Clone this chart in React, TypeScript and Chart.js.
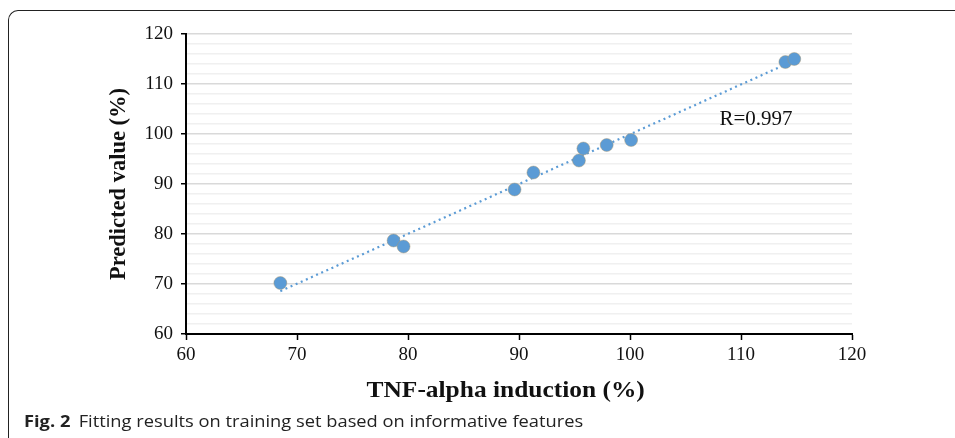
import React, { useEffect, useRef } from "react";
import { Chart, registerables } from "chart.js";

Chart.register(...registerables);

// ---- Data ----
const TNF_INDUCTION: number[] = [68.5, 78.7, 79.6, 89.6, 91.3, 95.4, 95.8, 97.9, 100.1, 114.0, 114.8];
const PREDICTED: number[] = [70.2, 78.7, 77.5, 88.9, 92.3, 94.7, 97.1, 97.8, 98.8, 114.4, 115.0];
const X_TICKS: number[] = [60, 70, 80, 90, 100, 110, 120];
const Y_TICKS: number[] = [60, 70, 80, 90, 100, 110, 120];
const Y_MINOR_STEP = 2;
const R_LABEL = "R=0.997";
const R_LABEL_POS: number[] = [111.35, 103.0];
const X_TITLE = "TNF-alpha induction (%)";
const Y_TITLE = "Predicted value (%)";
const CAPTION_BOLD = "Fig. 2";
const CAPTION_TEXT = "Fitting results on training set based on informative features";

const W = 955;
const H = 438;
const SERIF = '"Liberation Serif", "Times New Roman", serif';
const BLUE = "#5b9bd5";

// least-squares trendline (as Excel's linear trendline) from the data
function trendline(xs: number[], ys: number[]) {
  const n = xs.length;
  const mx = xs.reduce((a, b) => a + b, 0) / n;
  const my = ys.reduce((a, b) => a + b, 0) / n;
  let sxy = 0;
  let sxx = 0;
  for (let i = 0; i < n; i++) {
    sxy += (xs[i] - mx) * (ys[i] - my);
    sxx += (xs[i] - mx) * (xs[i] - mx);
  }
  const slope = sxy / sxx;
  const icpt = my - slope * mx;
  const x0 = Math.min(...xs);
  const x1 = Math.max(...xs);
  return [
    { x: x0, y: slope * x0 + icpt },
    { x: x1, y: slope * x1 + icpt },
  ];
}

const annotationPlugin = {
  id: "rLabel",
  afterDatasetsDraw(chart: any) {
    const { ctx, scales, chartArea } = chart;
    const px = scales.x.getPixelForValue(R_LABEL_POS[0]);
    const py = scales.y.getPixelForValue(R_LABEL_POS[1]);
    ctx.save();
    ctx.font = `21px ${SERIF}`;
    ctx.fillStyle = "#111";
    ctx.textAlign = "center";
    ctx.textBaseline = "middle";
    ctx.fillText(R_LABEL, px, py);
    ctx.restore();

    // x-axis title (Excel centres it slightly left of the plot centre and draws it wide)
    const cx = chartArea.left + (chartArea.right - chartArea.left) * 0.48;
    const cy = chartArea.bottom + 57;
    ctx.save();
    ctx.translate(cx, cy);
    ctx.scale(1.13, 1);
    ctx.font = `bold 22.5px ${SERIF}`;
    ctx.fillStyle = "#111";
    ctx.textAlign = "center";
    ctx.textBaseline = "middle";
    ctx.fillText(X_TITLE, 0, 0);
    ctx.restore();
  },
};

export default function App() {
  const canvasRef = useRef<HTMLCanvasElement | null>(null);

  useEffect(() => {
    document.body.style.margin = "0";
    const canvas = canvasRef.current;
    if (!canvas) return;
    const points = TNF_INDUCTION.map((x, i) => ({ x, y: PREDICTED[i] }));
    const isMajor = (v: number) => Y_TICKS.includes(v);

    const chart = new Chart(canvas, {
      type: "scatter",
      data: {
        datasets: [
          {
            type: "scatter",
            data: points,
            backgroundColor: BLUE,
            borderColor: "rgba(170,150,110,0.55)",
            borderWidth: 0.8,
            pointRadius: 6.5,
            order: 0,
          } as any,
          {
            type: "line",
            data: trendline(TNF_INDUCTION, PREDICTED),
            borderColor: BLUE,
            borderWidth: 2.2,
            borderDash: [2, 3.6],
            pointRadius: 0,
            fill: false,
            order: 1,
          } as any,
        ],
      },
      options: {
        animation: false,
        responsive: false,
        maintainAspectRatio: false,
        layout: { padding: { top: 34, right: W - 852, left: 0, bottom: 0 } },
        plugins: {
          legend: { display: false },
          tooltip: { enabled: false },
        },
        scales: {
          x: {
            type: "linear",
            min: X_TICKS[0],
            max: X_TICKS[X_TICKS.length - 1],
            afterFit: (s: any) => {
              s.height = H - 334;
            },
            afterBuildTicks: (s: any) => {
              s.ticks = X_TICKS.map((v) => ({ value: v }));
            },
            ticks: {
              autoSkip: false,
              maxRotation: 0,
              padding: 4,
              color: "#111",
              font: { family: SERIF, size: 19 },
            },
            grid: {
              drawOnChartArea: false,
              drawTicks: true,
              tickLength: 6,
              tickColor: "#000",
              tickWidth: 1.5,
            },
            border: { display: true, color: "#000", width: 2 },
            title: { display: false, text: X_TITLE },
          },
          y: {
            type: "linear",
            min: Y_TICKS[0],
            max: Y_TICKS[Y_TICKS.length - 1],
            afterFit: (s: any) => {
              s.width = 186;
            },
            afterBuildTicks: (s: any) => {
              const t: any[] = [];
              for (let v = Y_TICKS[0]; v <= Y_TICKS[Y_TICKS.length - 1]; v += Y_MINOR_STEP) {
                t.push({ value: v });
              }
              s.ticks = t;
            },
            ticks: {
              autoSkip: false,
              padding: 8,
              color: "#111",
              font: { family: SERIF, size: 19 },
              callback: (v: any) => (isMajor(Number(v)) ? String(v) : ""),
            },
            grid: {
              drawTicks: true,
              tickLength: 5,
              color: (c: any) => (c.tick && isMajor(c.tick.value) ? "#d9d9d9" : "#f0f0f0"),
              lineWidth: 1.5,
              tickColor: (c: any) => (c.tick && isMajor(c.tick.value) ? "#000" : "rgba(0,0,0,0)"),
              tickWidth: 1.5,
            },
            border: { display: true, color: "#000", width: 2 },
            title: {
              display: true,
              text: Y_TITLE,
              color: "#111",
              font: { family: SERIF, size: 22.5, weight: "bold" },
              padding: { top: 106, bottom: 0 },
            },
          },
        },
      } as any,
      plugins: [annotationPlugin],
    });
    return () => chart.destroy();
  }, []);

  return (
    <div style={{ position: "relative", width: W, height: H, overflow: "hidden", background: "#fff" }}>
      <div
        style={{
          position: "absolute",
          left: 8,
          top: 10,
          width: 1100,
          height: 600,
          borderTop: "1.5px solid #222",
          borderLeft: "1.5px solid #222",
          borderTopLeftRadius: 10,
          boxSizing: "border-box",
        }}
      />
      <canvas ref={canvasRef} width={W} height={H} style={{ position: "absolute", left: 0, top: 0, width: W, height: H }} />
      <div
        style={{
          position: "absolute",
          left: 24,
          top: 410,
          fontFamily: '"Open Sans", "Noto Sans", sans-serif',
          fontSize: 15.5,
          color: "#222",
          whiteSpace: "nowrap",
          lineHeight: "22px",
          transform: "scaleX(1.18)",
          transformOrigin: "0 0",
        }}
      >
        <span style={{ fontWeight: 700 }}>{CAPTION_BOLD}</span>
        <span style={{ marginLeft: 7 }}>{CAPTION_TEXT}</span>
      </div>
    </div>
  );
}
